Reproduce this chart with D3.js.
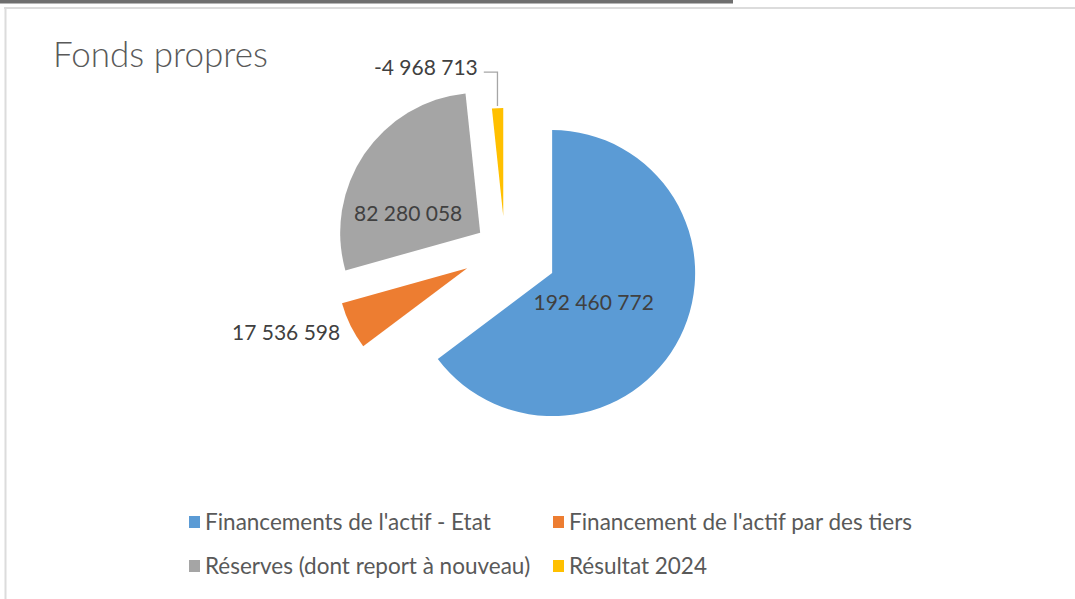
<!DOCTYPE html>
<html>
<head>
<meta charset="utf-8">
<script src="https://cdn.jsdelivr.net/npm/d3@7"></script>
<style>
  body { margin: 0; background: #fff; }
  svg { display: block; font-family: Lato, "Open Sans", sans-serif; }
</style>
</head>
<body>
<div id="chart"></div>
<script>
const title = "Fonds propres";
const categories = [
  "Financements de l'actif - Etat",
  "Financement de l'actif par des tiers",
  "Réserves (dont report à nouveau)",
  "Résultat 2024"
];
const values = [192460772, 17536598, 82280058, -4968713];
const colors = ["#5b9bd5", "#ed7d31", "#a5a5a5", "#ffc000"];

// how each slice is pulled out + where its label sits (angles in degrees, clockwise from top)
const sliceStyle = [
  { explode: 52.7, r: 143, labelDist: 50.6, labelAngle: 124.9, anchor: "middle" },
  { explode: 42.2, r: 130, labelDist: 142.5, labelAngle: 243, anchor: "end" },
  { explode: 30, r: 140, labelDist: 74.6, labelAngle: 285.2, anchor: "middle" },
  { explode: 33.6, r: 108, labelDist: 151, labelAngle: 350.3, anchor: "end", leader: true }
];

const W = 1075, H = 599;
const cx = 505, cy = 249.5;

const svg = d3.select("#chart").append("svg")
  .attr("width", W)
  .attr("height", H);

svg.append("rect").attr("width", W).attr("height", H).attr("fill", "#fff");

// frame bits from the screenshot
svg.append("rect")
  .attr("x", 0).attr("y", 0)
  .attr("width", 733).attr("height", 3.5)
  .attr("fill", "#6f6f6f");
svg.append("line")
  .attr("x1", 4).attr("x2", W).attr("y1", 8).attr("y2", 8)
  .attr("stroke", "#dcdcdc").attr("stroke-width", 2);
svg.append("line")
  .attr("x1", 5.5).attr("x2", 5.5).attr("y1", 8).attr("y2", H)
  .attr("stroke", "#dcdcdc").attr("stroke-width", 2);

// title
svg.append("text")
  .attr("x", 53)
  .attr("y", 67)
  .attr("fill", "#595959")
  .style("font-size", "35px")
  .style("font-weight", 300)
  .text(title);

const fmt = d3.formatLocale({ decimal: ",", thousands: " ", grouping: [3], currency: ["", ""], minus: "-" }).format(",d");

const data = categories.map((c, i) => ({ name: c, value: values[i], color: colors[i], style: sliceStyle[i] }));

const pie = d3.pie()
  .sort(null)
  .value(d => Math.abs(d.value));

const arcs = pie(data);
const rad = deg => deg * Math.PI / 180;
const polar = (dist, ang) => [dist * Math.sin(ang), -dist * Math.cos(ang)];

const g = svg.append("g").attr("transform", `translate(${cx},${cy})`);

arcs.forEach(a => {
  const s = a.data.style;
  const mid = (a.startAngle + a.endAngle) / 2;
  const [ox, oy] = polar(s.explode, mid);

  const slice = g.append("g").attr("transform", `translate(${ox},${oy})`);

  slice.append("path")
    .attr("d", d3.arc().innerRadius(0).outerRadius(s.r)(a))
    .attr("fill", a.data.color);

  const [lx, ly] = polar(s.labelDist, rad(s.labelAngle));

  slice.append("text")
    .attr("x", lx)
    .attr("y", ly)
    .attr("dy", "0.36em")
    .attr("text-anchor", s.anchor)
    .attr("fill", "#404040")
    .style("font-size", "21px")
    .text(fmt(a.data.value));

  if (s.leader) {
    const [px, py] = polar(s.r + 2, mid);
    const yLine = ly + 5;
    slice.append("path")
      .attr("d", d3.line()([[lx + 6, yLine], [px, yLine], [px, py]]))
      .attr("fill", "none")
      .attr("stroke", "#a6a6a6")
      .attr("stroke-width", 1.3);
  }
});

// legend, two per row
const legendCols = [189, 553];
const legendRows = [522, 566];

const legend = svg.selectAll(".legend")
  .data(data)
  .join("g")
  .attr("class", "legend")
  .attr("transform", (d, i) => `translate(${legendCols[i % 2]},${legendRows[Math.floor(i / 2)]})`);

legend.append("rect")
  .attr("x", 0)
  .attr("y", -6)
  .attr("width", 11)
  .attr("height", 12)
  .attr("fill", d => d.color);

legend.append("text")
  .attr("x", 16)
  .attr("y", 0)
  .attr("dy", "0.36em")
  .attr("fill", "#595959")
  .style("font-size", "22.5px")
  .text(d => d.name);
</script>
</body>
</html>
